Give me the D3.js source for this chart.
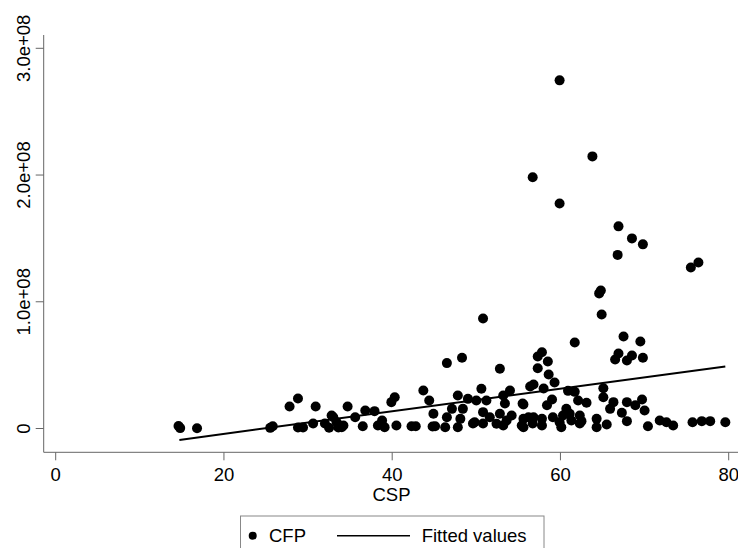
<!DOCTYPE html>
<html>
<head>
<meta charset="utf-8">
<script src="https://cdnjs.cloudflare.com/ajax/libs/d3/7.8.5/d3.min.js"></script>
<style>
  body { margin: 0; background: #fff; }
  svg { display: block; font-family: "Liberation Sans", Arial, sans-serif; }
  .tick-label, .axis-label, .legend-text { font-size: 18.5px; fill: #000; }
</style>
</head>
<body>
<svg id="chart" width="738" height="548"></svg>
<script>

// CSP values of the scatter points (x)
const CSP = [
  14.6, 14.8, 16.8, 25.5, 25.8, 27.8, 28.8, 30.9, 28.8, 29.4, 30.6, 32.8, 32.5, 33.4, 32.0, 34.2, 33.6,
  50.8, 46.5, 48.3, 52.8, 43.7, 50.6, 47.8, 40.3, 39.9, 44.4, 49.0, 54.0, 53.2, 34.7, 36.8, 37.9, 35.6,
  33.0, 34.0, 36.5, 38.3, 38.8, 40.5, 42.3, 42.8, 44.9, 45.1, 46.3, 46.5, 47.1, 48.1, 48.4, 47.8, 49.8,
  50.0, 51.2, 50.8, 51.6, 52.8, 53.4, 52.4, 53.6, 54.2, 55.6, 55.4, 56.2, 56.4,
  59.9, 66.9, 68.5, 69.8, 66.8, 75.5, 76.4, 64.6, 64.8, 64.9, 61.7, 67.5, 69.5, 66.9, 66.5, 67.9, 68.5,
  69.8, 57.3, 57.8, 58.5, 57.3, 58.6, 59.3, 56.8, 58.0, 60.9, 61.7, 65.1, 65.1, 59.0, 62.1, 63.1, 55.5,
  58.4, 66.3, 67.9, 69.7, 68.9, 65.9, 70.0, 67.3, 60.7, 60.3, 61.1, 62.3, 55.6, 56.8, 57.8, 59.1, 59.9,
  61.3, 62.5, 64.3, 65.5, 67.9, 64.3, 55.6, 57.8, 60.1, 70.4, 71.8, 72.6, 73.4, 75.7, 76.8, 77.8, 79.6,
  59.9, 63.8, 56.7, 53.2, 56.7, 62.3, 39.1, 44.8, 49.6, 50.8
];

// CFP values of the scatter points (y), in millions
const CFP_MILLIONS = [
  2.0, 0.3, 0.2, 0.5, 1.8, 17.4, 23.7, 17.4, 0.8, 0.8, 4.0, 10.3, 0.6, 5.0, 3.9, 2.4, 0.8,
  86.8, 51.6, 55.8, 47.1, 30.0, 31.3, 26.1, 24.7, 20.8, 22.1, 23.4, 30.0, 26.1, 17.4, 14.2, 13.7, 8.9,
  8.9, 1.0, 1.8, 2.4, 6.3, 2.4, 1.8, 1.8, 11.6, 1.8, 1.0, 8.9, 15.5, 7.6, 15.5, 1.0, 5.0,
  22.1, 22.1, 12.9, 8.9, 11.6, 19.7, 3.7, 6.3, 10.3, 18.9, 2.4, 8.9, 33.2,
  177.6, 159.5, 150.0, 145.3, 137.0, 127.1, 131.0, 106.6, 108.9, 90.0, 67.9, 72.6, 68.7, 59.2, 54.5, 53.7, 57.6,
  55.8, 56.8, 60.2, 52.9, 47.6, 42.6, 36.3, 34.7, 31.6, 29.7, 28.9, 31.8, 24.7, 22.9, 22.1, 20.3, 19.7,
  18.4, 20.8, 20.8, 22.9, 18.4, 15.5, 14.2, 12.4, 15.5, 10.3, 11.6, 10.3, 7.6, 8.9, 7.6, 8.9, 5.0,
  6.3, 5.8, 7.6, 3.2, 5.8, 1.0, 1.0, 2.4, 1.0, 1.8, 6.3, 5.0, 2.4, 5.0, 5.8, 5.8, 5.0,
  274.7, 214.7, 198.2, 2.4, 3.9, 3.9, 1.0, 1.6, 3.9, 3.9
];

// fitted values line (end points)
const FIT_CSP = [14.7, 79.6];
const FIT_MILLIONS = [-9, 49];

const X_TICKS = [0, 20, 40, 60, 80];
const Y_TICKS = [0, 1e8, 2e8, 3e8];
const Y_TICK_LABELS = ["0", "1.0e+08", "2.0e+08", "3.0e+08"];

const AXIS_X = 43.7;
const AXIS_Y = 452.3;

let x = d3.scaleLinear().domain([0, 80]).range([55.7, 728.7]);
let y = d3.scaleLinear().domain([0, 3e8]).range([428.5, 48.3]);

let chart = d3.select("#chart");

chart.append("rect")
     .attr("width", 738)
     .attr("height", 548)
     .attr("fill", "#fff");


/*
  Axis lines, ticks and labels.
*/
const buildAxes = () => {

  let axes = chart.append("g")
                  .attr("stroke", "#666")
                  .attr("stroke-width", 1);

  axes.append("line")
      .attr("x1", AXIS_X).attr("x2", 738)
      .attr("y1", AXIS_Y).attr("y2", AXIS_Y);

  axes.append("line")
      .attr("x1", AXIS_X).attr("x2", AXIS_X)
      .attr("y1", 35).attr("y2", AXIS_Y);

  axes.selectAll(".xtick")
      .data(X_TICKS).enter()
      .append("line")
      .attr("x1", d => x(d)).attr("x2", d => x(d))
      .attr("y1", AXIS_Y).attr("y2", AXIS_Y + 8);

  axes.selectAll(".ytick")
      .data(Y_TICKS).enter()
      .append("line")
      .attr("x1", AXIS_X - 8).attr("x2", AXIS_X)
      .attr("y1", d => y(d)).attr("y2", d => y(d));

  chart.selectAll(".xlabel")
       .data(X_TICKS).enter()
       .append("text")
       .attr("class", "tick-label")
       .attr("x", d => x(d))
       .attr("y", 481)
       .attr("text-anchor", "middle")
       .text(d => d);

  chart.selectAll(".ylabel")
       .data(Y_TICKS).enter()
       .append("text")
       .attr("class", "tick-label")
       .attr("transform", d => `translate(30,${y(d)}) rotate(-90)`)
       .attr("text-anchor", "middle")
       .text((d, i) => Y_TICK_LABELS[i]);

  chart.append("text")
       .attr("class", "axis-label")
       .attr("x", 391.5)
       .attr("y", 501)
       .attr("text-anchor", "middle")
       .text("CSP");
}


/*
  Scatter points and the fitted line.
*/
const buildMarks = () => {

  chart.append("g")
       .selectAll("circle")
       .data(CSP).enter()
       .append("circle")
       .attr("cx", d => x(d))
       .attr("cy", (d, i) => y(CFP_MILLIONS[i] * 1e6))
       .attr("r", 5)
       .attr("fill", "#000");

  let line = d3.line()
               .x(d => x(d[0]))
               .y(d => y(d[1] * 1e6));

  chart.append("path")
       .datum(FIT_CSP.map((c, i) => [c, FIT_MILLIONS[i]]))
       .attr("d", line)
       .attr("fill", "none")
       .attr("stroke", "#000")
       .attr("stroke-width", 2);
}


/*
  Legend box at the bottom.
*/
const buildLegend = () => {

  let legend = chart.append("g");

  legend.append("rect")
        .attr("x", 240.5)
        .attr("y", 516)
        .attr("width", 303.5)
        .attr("height", 60)
        .attr("fill", "#fff")
        .attr("stroke", "#888")
        .attr("stroke-width", 1);

  legend.append("circle")
        .attr("cx", 252.7)
        .attr("cy", 535.7)
        .attr("r", 4)
        .attr("fill", "#000");

  legend.append("text")
        .attr("class", "legend-text")
        .attr("x", 269)
        .attr("y", 541.7)
        .text("CFP");

  legend.append("line")
        .attr("x1", 337).attr("x2", 410)
        .attr("y1", 535.7).attr("y2", 535.7)
        .attr("stroke", "#000")
        .attr("stroke-width", 1.5);

  legend.append("text")
        .attr("class", "legend-text")
        .attr("x", 421.7)
        .attr("y", 541.7)
        .text("Fitted values");
}

buildAxes();
buildMarks();
buildLegend();

</script>
</body>
</html>
